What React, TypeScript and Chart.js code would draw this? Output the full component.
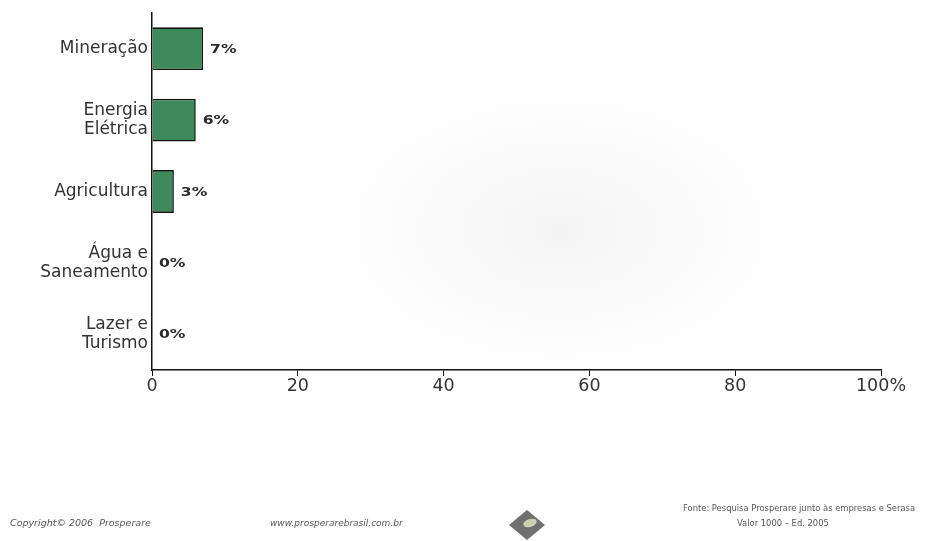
import React, { useEffect, useRef } from "react";
import { Chart, registerables } from "chart.js";

Chart.register(...registerables);

const categories: string[][] = [
  ["Mineração"],
  ["Energia", "Elétrica"],
  ["Agricultura"],
  ["Água e", "Saneamento"],
  ["Lazer e", "Turismo"],
];
const values: number[] = [7, 6, 3, 0, 0];
const valueLabels: string[] = ["7%", "6%", "3%", "0%", "0%"];
const xTicks: number[] = [0, 20, 40, 60, 80, 100];

const labelPlugin = {
  id: "valueLabels",
  afterDatasetsDraw(chart: any) {
    const ctx = chart.ctx;
    const meta = chart.getDatasetMeta(0);
    meta.data.forEach((el: any, i: number) => {
      ctx.save();
      ctx.translate(el.x + 7, el.y + 1);
      ctx.scale(1.3, 1);
      ctx.font = "bold 12px 'DejaVu Sans', Verdana, sans-serif";
      ctx.fillStyle = "#2a2a2a";
      ctx.textBaseline = "middle";
      ctx.textAlign = "left";
      ctx.fillText(valueLabels[i], 0, 0);
      ctx.restore();
    });
  },
};

const footerPlugin = {
  id: "footer",
  beforeDraw(chart: any) {
    const ctx = chart.ctx;
    ctx.save();
    ctx.fillStyle = "#ffffff";
    ctx.fillRect(0, 0, chart.width, chart.height);
    ctx.translate(560, 230);
    ctx.scale(1.6, 1);
    const g = ctx.createRadialGradient(0, 0, 5, 0, 0, 200);
    g.addColorStop(0, "rgba(228,228,228,0.4)");
    g.addColorStop(1, "rgba(255,255,255,0)");
    ctx.fillStyle = g;
    ctx.fillRect(-400, -300, 800, 700);
    ctx.restore();
  },
  afterDraw(chart: any) {
    const ctx = chart.ctx;
    ctx.save();
    ctx.fillStyle = "#555";
    ctx.textBaseline = "middle";
    ctx.font = "italic 9.5px 'DejaVu Sans', sans-serif";
    ctx.fillText("Copyright© 2006  Prosperare", 10, 524);
    ctx.font = "italic 9px 'DejaVu Sans', sans-serif";
    ctx.fillText("www.prosperarebrasil.com.br", 270, 524);
    ctx.font = "8.4px 'DejaVu Sans', sans-serif";
    ctx.fillText("Fonte: Pesquisa Prosperare junto às empresas e Serasa", 683, 509);
    ctx.fillText("Valor 1000 – Ed. 2005", 737, 524);
    ctx.fillStyle = "#6f6f6f";
    ctx.beginPath();
    ctx.moveTo(527, 510);
    ctx.lineTo(545, 525);
    ctx.lineTo(527, 540);
    ctx.lineTo(509, 525);
    ctx.closePath();
    ctx.fill();
    ctx.fillStyle = "#c8d0b0";
    ctx.beginPath();
    ctx.ellipse(530, 523, 7, 4, -0.3, 0, Math.PI * 2);
    ctx.fill();
    ctx.restore();
  },
};

export default function App() {
  const ref = useRef<HTMLCanvasElement | null>(null);
  useEffect(() => {
    if (!ref.current) return;
    const chart = new Chart(ref.current, {
      type: "bar",
      data: {
        labels: categories,
        datasets: [
          {
            data: values,
            backgroundColor: "#3e8a5c",
            borderColor: "#111",
            borderWidth: 1.6,
            borderSkipped: "left",
            barPercentage: 0.6,
            categoryPercentage: 1,
          },
        ],
      },
      options: {
        indexAxis: "y",
        animation: false,
        responsive: false,
        layout: { padding: { left: 0, right: 57, top: 13, bottom: 138 } },
        plugins: { legend: { display: false }, tooltip: { enabled: false } },
        scales: {
          x: {
            min: 0,
            max: 100,
            afterBuildTicks(scale: any) {
              scale.ticks = xTicks.map((v) => ({ value: v }));
            },
            afterFit(scale: any) {
              scale.height = 33;
            },
            grid: {
              drawOnChartArea: false,
              drawTicks: true,
              tickLength: 6,
              color: "#111",
            },
            border: { display: true, color: "#111", width: 1.5 },
            ticks: {
              color: "#333",
              padding: 0,
              font: { family: "'DejaVu Sans', Verdana, sans-serif", size: 17.5 },
              maxRotation: 0,
              callback: (v: any) => (v === 100 ? "100%" : String(v)),
            },
          },
          y: {
            afterFit(scale: any) {
              scale.width = 152;
              scale.paddingTop = 0;
              scale.paddingBottom = 0;
            },
            grid: { display: false, drawTicks: false },
            border: { display: true, color: "#111", width: 1.5 },
            ticks: {
              color: "#333",
              padding: 4,
              font: { family: "'DejaVu Sans', Verdana, sans-serif", size: 17, lineHeight: 1.15 },
            },
          },
        },
      },
      plugins: [labelPlugin, footerPlugin],
    });
    return () => chart.destroy();
  }, []);
  return (
    <div style={{ position: "fixed", left: 0, top: 0, width: 938, height: 541 }}>
      <canvas ref={ref} width={938} height={541} style={{ width: 938, height: 541 }} />
    </div>
  );
}
